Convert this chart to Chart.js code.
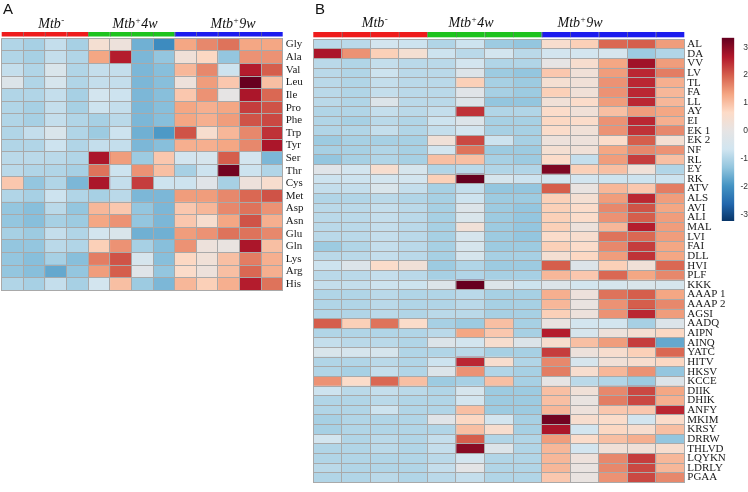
<!DOCTYPE html>
<html><head><meta charset="utf-8">
<script src="https://cdn.jsdelivr.net/npm/chart.js@4"></script>
<style>
html,body{margin:0;padding:0;background:#fff;width:748px;height:492px;overflow:hidden}
canvas{position:absolute;top:0}
</style></head><body>
<canvas id="cA" width="320" height="300" style="left:0px"></canvas>
<canvas id="cB" width="448" height="492" style="left:300px"></canvas>
<canvas id="cK" width="48" height="240" style="left:700px"></canvas>
<script>
// ---- data ----
const groupNames = ['Mtb-', 'Mtb+4w', 'Mtb+9w'];
const groupOfColumn = [0,0,0,0,1,1,1,1,2,2,2,2,2];
const groupColors = ['#ee1c1c', '#1ec31e', '#1c1cee'];

const rowsA = ['Gly','Ala','Val','Leu','Ile','Pro','Phe','Trp','Tyr','Ser','Thr','Cys','Met','Asp','Asn','Glu','Gln','Lys','Arg','His'];
const valuesA = [
 [-1.0,-1.1,-0.8,-1.1, 0.4, 0.2,-1.6,-2.1, 1.3, 1.6, 1.8, 1.3, 1.3],
 [-1.0,-1.1,-0.8,-1.0, 1.3, 2.6,-1.5,-1.3, 0.3, 0.7,-1.3, 1.5, 1.5],
 [-0.8,-1.0,-0.4,-1.0,-0.8,-0.8,-1.5,-1.4, 1.1, 1.6,-0.7, 2.6, 2.0],
 [-0.3,-1.0,-0.5,-1.0,-0.8,-0.8,-1.5,-1.4, 0.2, 1.4, 0.9, 3.3, 1.0],
 [-1.0,-1.0,-0.8,-1.1,-0.6,-0.7,-1.5,-1.4, 0.9, 1.5, 0.0, 2.7, 1.9],
 [-1.0,-1.1,-0.8,-1.1,-0.7,-0.8,-1.5,-1.4, 1.3, 1.2, 1.3, 2.3, 2.1],
 [-1.0,-1.1,-0.8,-1.0,-1.1,-0.9,-1.5,-1.4, 1.3, 1.2, 1.4, 2.1, 2.2],
 [-1.0,-0.8,-0.4,-1.0,-1.2,-0.7,-1.6,-1.9, 2.1, 0.5, 1.1, 1.6, 2.4],
 [-1.0,-1.0,-0.7,-1.0,-0.8,-0.8,-1.5,-1.4, 1.2, 1.2, 1.3, 1.6, 2.7],
 [-0.9,-0.9,-0.9,-1.0, 2.7, 1.4,-1.2, 0.9,-0.6,-0.5, 2.0,-0.6,-1.5],
 [-0.9,-1.0,-1.0,-1.1, 1.8,-0.7, 1.5, 1.0,-1.1,-0.7, 3.2,-0.7,-1.0],
 [ 0.9,-1.3,-1.0,-1.5, 2.7,-0.8, 2.3,-0.7,-0.7,-0.2,-1.1, 0.2, 0.5],
 [-1.0,-1.1,-0.7,-1.0,-1.1,-0.9,-1.5,-1.5, 1.4, 1.4, 1.6, 1.9, 2.1],
 [-1.3,-1.4,-0.9,-1.3, 1.1, 0.9,-1.3,-1.5, 0.9, 1.1, 1.6, 1.8, 1.5],
 [-1.3,-1.4,-1.1,-1.2, 1.3, 1.5,-1.3,-1.5, 0.9, 0.5, 1.3, 2.1, 1.2],
 [-1.1,-1.2,-0.8,-1.0,-0.6,-0.4,-1.6,-1.6, 1.4, 1.5, 1.8, 1.8, 1.6],
 [-1.3,-1.3,-0.9,-1.0, 0.8, 1.5,-1.1,-1.4, 1.5, 0.2, 0.1, 2.7, 1.0],
 [-1.3,-1.4,-1.1,-1.4, 1.7, 2.1,-0.5,-1.4, 0.7, 0.3, 1.0, 1.7, 1.2],
 [-1.3,-1.4,-1.7,-1.3, 1.4, 2.0,-0.2,-1.3, 0.6, 0.2, 1.0, 1.9, 1.2],
 [-1.0,-1.1,-0.8,-1.1,-0.6, 1.0,-1.2,-1.5, 1.1, 0.8, 1.2, 2.6, 1.8]
];

const rowsB = ['AL','DA','VV','LV','TL','FA','LL','AY','EI','EK 1','EK 2','NF','RL','EY','RK','ATV','ALS','AVI','ALI','MAL','LVI','FAI','DLL','HVI','PLF','KKK','AAAP 1','AAAP 2','AGSI','AADQ','AIPN','AINQ','YATC','HITV','HKSV','KCCE','DIIK','DHIK','ANFY','MKIM','KRSY','DRRW','THLVD','LQYKN','LDRLY','PGAA'];
const valuesB = [
 [-0.9,-0.9,-0.6,-0.7,-1.0,-0.7,-1.2,-1.3, 0.5, 0.8, 1.9, 2.0, 1.4],
 [ 2.7, 1.5, 0.8, 0.4,-0.7,-0.9,-0.6,-0.9,-0.6,-0.6,-0.5,-1.2,-1.0],
 [-0.9,-1.0,-0.8,-0.9,-0.9,-0.6,-1.0,-1.0, 0.0, 0.5, 1.3, 2.8, 1.4],
 [-0.9,-1.0,-0.7,-0.9,-0.9,-0.3,-1.2,-1.3, 0.9, 0.3, 1.4, 2.5, 1.7],
 [-0.9,-1.0,-0.8,-0.9,-0.9, 0.8,-1.1,-1.2, 0.4, 0.3, 1.5, 2.5, 1.2],
 [-0.9,-1.0,-0.8,-0.9,-0.9,-0.2,-1.1,-1.2, 0.8, 0.3, 1.5, 2.5, 1.1],
 [-0.9,-1.0,-0.3,-0.9,-0.9,-0.3,-1.3,-1.3, 0.3, 0.6, 1.4, 2.5, 1.1],
 [-1.0,-1.0,-0.8,-0.9,-0.8, 2.4,-1.0,-1.0, 0.6, 0.3, 1.0, 1.4, 1.3],
 [-1.0,-1.1,-0.9,-1.0,-0.7,-0.3,-1.1,-1.1, 0.7, 0.6, 1.5, 2.5, 1.2],
 [-1.0,-1.0,-0.8,-1.0,-0.8,-0.6,-1.1,-1.1, 0.6, 0.3, 1.5, 2.4, 1.6],
 [-1.2,-1.1,-1.1,-1.1, 0.3, 2.2,-0.7,-1.1, 0.2, 0.2, 0.6, 2.0, 0.4],
 [-1.1,-1.1,-1.0,-1.1,-0.6, 1.8,-1.2,-1.2, 0.4, 0.3, 1.3, 1.6, 1.5],
 [-1.3,-1.1,-1.0,-1.1, 1.0, 1.0,-1.1,-1.2, 0.6,-0.8, 1.4, 2.3, 1.0],
 [-0.2,-0.6, 0.5,-0.5,-1.0,-0.9,-1.0,-1.0, 3.1, 0.8, 1.0, 0.3,-1.0],
 [-0.7,-0.7,-0.6,-0.6, 0.8, 3.3,-0.5,-0.7,-0.6,-0.6,-0.7,-0.7,-0.7],
 [-0.8,-0.8,-0.4,-0.8,-1.1,-0.8,-1.3,-1.3, 2.0, 0.1, 1.1, 0.9, 1.7],
 [-1.0,-1.0,-0.9,-1.0,-1.1,-0.7,-1.2,-1.2, 0.8, 0.4, 1.4, 2.5, 1.4],
 [-0.9,-0.9,-0.8,-0.9,-1.1,-0.3,-1.2,-1.3, 0.8, 0.6, 1.6, 2.1, 1.3],
 [-0.9,-0.9,-0.8,-0.9,-1.1,-0.4,-1.2,-1.3, 0.8, 0.6, 1.5, 2.0, 1.4],
 [-0.9,-0.9,-0.8,-0.9,-1.1, 0.3,-1.2,-1.3, 0.8, 0.2, 1.1, 2.6, 1.4],
 [-0.9,-0.9,-0.8,-0.9,-1.1,-0.5,-1.2,-1.3, 0.6, 0.5, 1.8, 1.9, 1.4],
 [-1.2,-1.0,-0.8,-0.9,-1.1,-0.5,-1.2,-1.2, 0.8, 0.6, 1.6, 2.3, 1.3],
 [-0.9,-0.9,-0.8,-0.9,-1.1,-0.5,-1.1,-1.1, 0.4, 0.7, 1.4, 2.4, 1.3],
 [-0.7,-0.3, 0.6, 0.3,-1.2,-1.0,-1.2,-1.2, 2.0,-0.3, 0.8, 0.3, 1.9],
 [-0.9,-0.9,-0.8,-0.9,-1.1,-1.0,-1.1,-1.1, 1.1, 0.9, 1.9, 1.3, 1.6],
 [-0.8,-0.8,-0.7,-0.7,-0.3, 3.3,-0.3,-0.7,-0.3,-0.6,-0.5,-0.4,-0.5],
 [-1.0,-1.0,-0.9,-1.0,-1.0,-0.9,-1.1,-1.1, 1.2, 0.2, 1.8, 2.0, 1.3],
 [-1.0,-1.0,-0.9,-1.0,-1.0,-0.9,-1.1,-1.1, 1.1, 0.1, 1.5, 2.0, 1.6],
 [-1.0,-1.0,-0.9,-1.0,-0.9,-0.9,-1.1,-1.1, 0.8, 0.2, 1.5, 2.5, 1.4],
 [ 2.0, 0.8, 1.8, 0.6,-1.1,-1.2, 1.0,-1.1, 0.1,-0.6,-0.6,-1.1,-0.3],
 [-1.0,-1.0,-1.0,-1.0,-0.9, 1.3, 0.9,-1.1, 2.6,-0.5, 0.2, 0.4, 0.7],
 [-0.8,-0.9,-0.9,-1.0,-0.3,-0.6, 0.5,-0.3, 0.5, 1.0, 1.4, 2.3,-1.7],
 [-0.4,-0.5,-0.5,-1.0,-1.0,-0.9,-1.1,-1.1, 2.3, 0.2, 0.5, 0.8, 1.9],
 [-1.0,-1.0,-0.9,-1.0,-0.7, 2.5, 0.5,-1.0, 1.6,-0.5, 0.3, 0.5, 0.7],
 [-1.0,-1.1,-0.8,-1.0,-0.3, 1.5,-1.0,-1.1, 1.7, 0.5, 1.1, 1.5,-1.3],
 [ 1.5, 0.6, 1.9, 1.0,-1.2,-1.1, 1.0,-1.1, 0.0,-0.9,-1.0,-1.2,-0.3],
 [-0.7,-0.9,-0.8,-0.9,-1.0,-0.5,-1.2,-1.2, 1.0, 0.3, 1.6, 2.2, 1.3],
 [-1.0,-1.0,-0.9,-1.0,-1.0,-0.6,-1.2,-1.2, 1.0, 0.1, 1.7, 2.2, 1.2],
 [-1.0,-1.0,-0.7,-1.0,-1.0, 1.0,-1.2,-1.2, 1.1, 0.2, 0.9, 0.9, 2.5],
 [-1.1,-1.0,-1.0,-1.0,-0.2, 0.7,-0.6,-1.1, 3.2, 0.5, 0.6,-0.6, 0.6],
 [-1.1,-1.0,-1.0,-1.0,-1.0, 1.0, 0.5,-1.1, 2.7,-0.6, 0.7, 0.5, 1.0],
 [-0.6,-1.0,-0.9,-1.0,-0.8, 2.0,-1.0,-1.0, 1.4, 0.6, 1.0, 1.2,-1.3],
 [-1.0,-1.0,-0.9,-1.0,-0.8, 3.0,-0.3,-1.0, 1.1,-0.6, 0.3, 0.3, 0.5],
 [-1.0,-1.0,-1.0,-1.0,-0.9,-0.6,-1.0,-1.0, 1.1, 0.2, 1.6, 2.3, 1.1],
 [-0.9,-1.0,-1.0,-1.0,-0.8,-0.1,-1.0,-1.0, 1.1, 0.1, 1.6, 2.2, 1.1],
 [-1.0,-1.0,-0.9,-1.0,-0.9,-0.8,-1.0,-1.0, 0.9, 0.1, 1.5, 2.2, 1.6]
];

const legendTicks = [-3,-2,-1,0,1,2,3];
const legendMin = -3.24, legendMax = 3.34;
const paletteValues = [-3.3,-2.64,-1.98,-1.32,-0.66,0,0.66,1.32,1.98,2.64,3.3];
const paletteColors = ['#053061','#2166ac','#4393c3','#92c5de','#d1e5f0','#e6e4e4','#fddbc7','#f4a582','#d6604d','#b2182b','#67001f'];

// ---- helpers ----
function hexToRgb(h){return [parseInt(h.slice(1,3),16),parseInt(h.slice(3,5),16),parseInt(h.slice(5,7),16)];}
const paletteRgb = paletteColors.map(hexToRgb);
function colorFor(v){
  const n = paletteValues.length;
  if (v <= paletteValues[0]) return paletteColors[0];
  if (v >= paletteValues[n-1]) return paletteColors[n-1];
  for (let i=0;i<n-1;i++){
    if (v >= paletteValues[i] && v <= paletteValues[i+1]){
      const t = (v-paletteValues[i])/(paletteValues[i+1]-paletteValues[i]);
      const a = paletteRgb[i], b = paletteRgb[i+1];
      const c = a.map((x,k)=>Math.round(x+(b[k]-x)*t));
      return 'rgb('+c.join(',')+')';
    }
  }
}
const GRID = '#a9a9a9';
const SERIF = '"Liberation Serif", "Times New Roman", serif';

function drawTitle(ctx, name, cx, base){
  const main = name.slice(0,3), sup = name[3], rest = name.slice(4);
  const fMain = 'italic 14px ' + SERIF;
  const fSup = '9px ' + SERIF;
  ctx.font = fMain;
  const w1 = ctx.measureText(main).width, w3 = ctx.measureText(rest).width;
  ctx.font = fSup;
  const w2 = ctx.measureText(sup).width;
  let x = cx - (w1 + w2 + 1 + w3)/2;
  ctx.textAlign = 'left'; ctx.textBaseline = 'alphabetic'; ctx.fillStyle = '#111';
  ctx.font = fMain; ctx.fillText(main, x, base); x += w1 + 0.5;
  ctx.font = fSup; ctx.fillText(sup, x, base - 5.5); x += w2 + 0.5;
  ctx.font = fMain; ctx.fillText(rest, x, base);
}

function headerPlugin(cfg){
  return {
    id: 'hdr' + cfg.letter,
    afterDraw(chart){
      const ctx = chart.ctx, xs = chart.scales.x;
      ctx.save();
      ctx.font = '15px "Liberation Sans", Arial, sans-serif';
      ctx.fillStyle = '#111'; ctx.textAlign = 'left'; ctx.textBaseline = 'alphabetic';
      ctx.fillText(cfg.letter, cfg.letterX, 13.5);
      groupOfColumn.forEach((g, j) => {
        const x0 = xs.getPixelForValue(j), x1 = xs.getPixelForValue(j+1);
        ctx.fillStyle = groupColors[g];
        ctx.fillRect(x0, cfg.barTop, x1 - x0, cfg.barH);
      });
      ctx.strokeStyle = 'rgba(110,110,110,0.55)'; ctx.lineWidth = 1;
      for (let j=1;j<groupOfColumn.length;j++){
        const px = Math.round(xs.getPixelForValue(j)) + 0.5;
        ctx.beginPath(); ctx.moveTo(px, cfg.barTop); ctx.lineTo(px, cfg.barTop + cfg.barH); ctx.stroke();
      }
      groupNames.forEach((n, i) => drawTitle(ctx, n, cfg.titleX[i], cfg.titleBase));
      ctx.restore();
    }
  };
}

function makeHeatmap(id, rows, values, pad, yWidth, plugin){
  const nCol = groupOfColumn.length;
  const datasets = groupOfColumn.map((g, j) => ({
    data: rows.map(() => [j, j+1]),
    backgroundColor: rows.map((r, i) => colorFor(values[i][j])),
    borderWidth: 0, grouped: false, barPercentage: 1, categoryPercentage: 1
  }));
  return new Chart(document.getElementById(id), {
    type: 'bar',
    data: { labels: rows, datasets },
    plugins: [plugin],
    options: {
      indexAxis: 'y', responsive: false, animation: false, devicePixelRatio: 1,
      layout: { padding: pad },
      plugins: { legend: { display: false }, tooltip: { enabled: false } },
      scales: {
        x: { type: 'linear', min: 0, max: nCol, position: 'bottom',
             ticks: { display: false, stepSize: 1 },
             grid: { color: GRID, lineWidth: 1, drawTicks: false, z: 1 },
             border: { display: true, color: GRID, z: 1 },
             afterFit(s){ s.height = 0; } },
        y: { type: 'category', position: 'right', offset: true,
             grid: { offset: true, color: GRID, lineWidth: 1, drawTicks: false, z: 1 },
             border: { display: true, color: GRID, z: 1 },
             ticks: { autoSkip: false, padding: 3, color: '#1a1a1a', font: { family: SERIF, size: 11 } },
             afterFit(s){ s.width = yWidth; } }
      }
    }
  });
}

makeHeatmap('cA', rowsA, valuesA, {left: 1.7, top: 38.3, bottom: 3.3, right: 0}, 37.3,
  headerPlugin({letter: 'A', letterX: 3, barTop: 32, barH: 4.5, titleX: [51.5, 135, 233], titleBase: 28}));
makeHeatmap('cB', rowsB, valuesB, {left: 13.3, top: 39.3, bottom: 0.7, right: 0}, 63.7,
  headerPlugin({letter: 'B', letterX: 15, barTop: 32, barH: 5.3, titleX: [75, 171, 280], titleBase: 27}));

// colour key
new Chart(document.getElementById('cK'), {
  type: 'bar',
  data: { labels: ['key'], datasets: [{
    data: [[legendMin, legendMax]],
    backgroundColor: (c) => {
      const ch = c.chart, ys = ch.scales.y;
      if (!ys || !ch.chartArea) return '#ccc';
      const g = ch.ctx.createLinearGradient(0, ys.getPixelForValue(paletteValues[0]), 0, ys.getPixelForValue(paletteValues[paletteValues.length-1]));
      paletteColors.forEach((col, i) => g.addColorStop(i/(paletteColors.length-1), col));
      return g;
    },
    borderWidth: 0, barPercentage: 1, categoryPercentage: 1
  }]},
  options: {
    responsive: false, animation: false, devicePixelRatio: 1,
    layout: { padding: { left: 21.7, top: 37.7, bottom: 19, right: 0 } },
    plugins: { legend: { display: false }, tooltip: { enabled: false } },
    scales: {
      x: { display: false },
      y: { position: 'right', min: legendMin, max: legendMax,
           afterBuildTicks(s){ s.ticks = legendTicks.map(v => ({ value: v })); },
           grid: { display: false }, border: { display: false },
           ticks: { padding: 1.5, crossAlign: 'far', color: '#333', font: { family: '"Liberation Sans", Arial, sans-serif', size: 8.5 } },
           afterFit(s){ s.width = 13.7; } }
    }
  }
});
</script>
</body></html>
